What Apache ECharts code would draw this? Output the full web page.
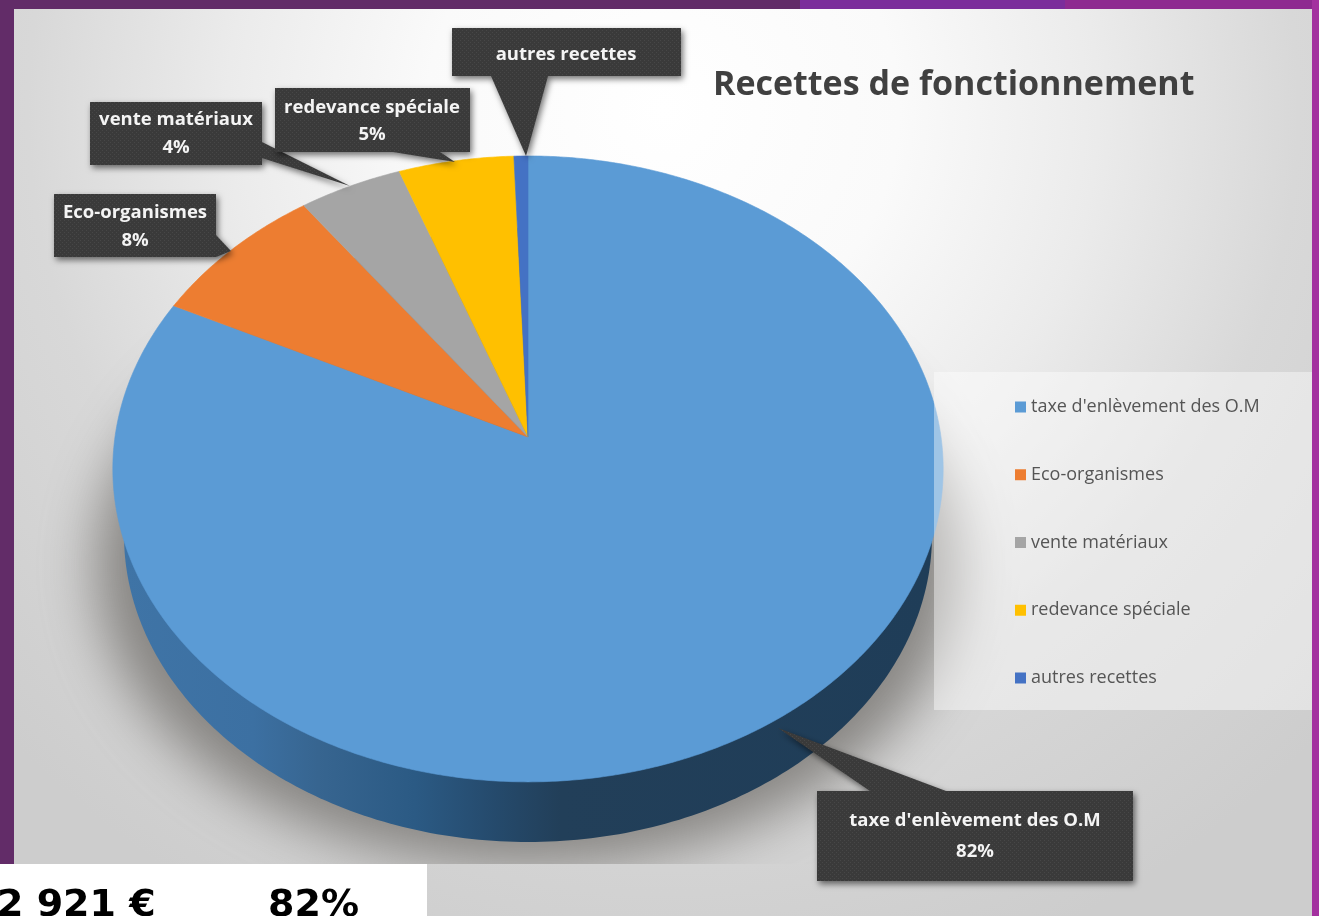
<!DOCTYPE html>
<html><head><meta charset="utf-8">
<style>html,body{margin:0;padding:0;background:#622c68}#c{width:1319px;height:916px}</style>
<script src="https://cdn.jsdelivr.net/npm/echarts@6/dist/echarts.min.js"></script>
</head><body><div id="c"></div>
<script>
const categories = ["taxe d'enlèvement des O.M", "Eco-organismes", "vente matériaux", "redevance spéciale", "autres recettes"];
const shares = [82.3, 7.7, 4.45, 4.95, 0.6];
const showPercent = [true, true, true, true, false];
const colors = ['#5b9bd5', '#ed7d31', '#a5a5a5', '#ffc000', '#4472c4'];

const PIE = {cx: 528, cy: 437, R: 413, a: 309.7, k: 0.102};
const BASE = {cx: 528, cy: 535, rx: 404, ry: 307};
const CALLOUTS = [
  {pts: [[817,791],[870,791],[778,728],[946,791],[1133,791],[1133,881],[817,881]], tx: 975, ty: [821, 852]},
  {pts: [[54,194],[216,194],[216,235],[231,251],[216,257],[54,257]], tx: 135, ty: [213, 241]},
  {pts: [[90,102],[262,102],[262,142],[350,186],[262,158],[262,165],[90,165]], tx: 176, ty: [120, 148]},
  {pts: [[275,88],[470,88],[470,152],[440,152],[455,162],[393,152],[275,152]], tx: 372, ty: [108, 135]},
  {pts: [[452,28],[681,28],[681,76],[548,76],[526,156],[491,76],[452,76]], tx: 566, ty: [55]}
];
const FONT = '"Open Sans", "Noto Sans", sans-serif';

function project(deg, P) {
  const t = deg * Math.PI / 180, u = Math.sin(t), v = Math.cos(t), d = 1 + P.k * v;
  return [P.cx + P.R * u / d, P.cy - P.a * v / d];
}
function dotted() {
  const cv = document.createElement('canvas'); cv.width = 4; cv.height = 4;
  const g = cv.getContext('2d');
  g.fillStyle = '#3a3a3a'; g.fillRect(0, 0, 4, 4);
  g.fillStyle = '#474747'; g.fillRect(0, 0, 1, 1); g.fillRect(2, 2, 1, 1);
  return cv;
}
const dots = dotted();
const total = shares.reduce((a, b) => a + b, 0);
function panelFill() {
  return new echarts.graphic.RadialGradient(663, 110, 907, [
    {offset: 0, color: '#ffffff'}, {offset: 0.26, color: '#fafafa'},
    {offset: 0.48, color: '#ebebeb'}, {offset: 0.7, color: '#d8d8d8'},
    {offset: 1, color: '#cdcdcd'}], true);
}

function sliceRenderer(idx) {
  return function (params, api) {
    const value = api.value(0);
    const start = shares.slice(0, idx).reduce((a, b) => a + b, 0) / total * 360;
    const end = start + value / total * 360;
    const pts = [[PIE.cx, PIE.cy]];
    for (let d = start; d < end; d += 0.5) pts.push(project(d, PIE));
    pts.push(project(end, PIE));
    const color = api.visual('color');
    const kids = [];
    if (idx === 0) {
      const wall = [];
      for (let d = 0; d < 360; d += 1) {
        const t = d * Math.PI / 180;
        wall.push([BASE.cx + BASE.rx * Math.cos(t), BASE.cy + BASE.ry * Math.sin(t)]);
      }
      kids.push({type: 'polygon', z2: 1, shape: {points: wall}, style: {
        fill: new echarts.graphic.LinearGradient(0, 0, 1, 0, [
          {offset: 0, color: '#3f74a6'}, {offset: 0.16, color: '#3c70a2'},
          {offset: 0.24, color: '#376590'}, {offset: 0.36, color: '#2b5a84'},
          {offset: 0.46, color: '#254a6c'}, {offset: 0.54, color: '#223f59'},
          {offset: 1, color: '#1f3d58'}])
      }});
    }
    kids.push({type: 'polygon', z2: 2, shape: {points: pts}, style: {fill: color, stroke: color, lineWidth: 0.6}});
    const c = CALLOUTS[idx];
    kids.push({type: 'polygon', z2: 10, shape: {points: c.pts}, style: {
      fill: {image: dots, repeat: 'repeat'},
      shadowBlur: 6, shadowColor: 'rgba(0,0,0,0.55)', shadowOffsetX: 2, shadowOffsetY: 3}});
    const textStyle = {fontFamily: FONT, fontWeight: 700, fontSize: 18.5, fill: '#f4f4f4', align: 'center', verticalAlign: 'middle'};
    kids.push({type: 'text', z2: 11, style: Object.assign({x: c.tx, y: c.ty[0], text: categories[idx]}, textStyle)});
    if (showPercent[idx]) {
      kids.push({type: 'text', z2: 11, style: Object.assign({x: c.tx, y: c.ty[1], text: Math.round(value / total * 100) + '%'}, textStyle)});
    }
    return {type: 'group', children: kids};
  };
}

const chart = echarts.init(document.getElementById('c'), null, {width: 1319, height: 916});
chart.setOption({
  animation: false,
  backgroundColor: '#622c68',
  title: {text: 'Recettes de fonctionnement', left: 708, top: 63,
    textStyle: {fontFamily: FONT, fontWeight: 700, fontSize: 34, color: '#404040'}},
  legend: {
    orient: 'vertical', left: 1010, top: 393, itemWidth: 11, itemHeight: 11, itemGap: 49.75, icon: 'rect',
    textStyle: {fontFamily: FONT, fontSize: 18, color: '#555555'},
    data: categories
  },
  graphic: [
    {type: 'rect', silent: true, shape: {x: 800, y: 0, width: 265, height: 9}, style: {fill: '#7b2d9b'}},
    {type: 'rect', silent: true, shape: {x: 1065, y: 0, width: 254, height: 9}, style: {fill: '#8e2a90'}},
    {type: 'rect', silent: true, shape: {x: 1312, y: 0, width: 7, height: 916}, style: {fill: '#a3319f'}},
    {type: 'rect', silent: true, shape: {x: 14, y: 9, width: 1298, height: 907}, style: {fill: panelFill()}},
    {type: 'ellipse', silent: true, shape: {cx: 528 - 3000, cy: 566, rx: 432, ry: 300}, style: {
      fill: '#777', shadowBlur: 55, shadowColor: 'rgba(120,118,114,0.85)', shadowOffsetX: 3000}},
    {type: 'rect', silent: true, shape: {x: 14, y: 864, width: 1298, height: 52}, style: {fill: panelFill()}},
    {type: 'rect', silent: true, z: 3, shape: {x: 934, y: 372, width: 378, height: 338}, style: {fill: 'rgba(255,255,255,0.42)'}},
    {type: 'rect', silent: true, z: 5, shape: {x: 0, y: 864, width: 427, height: 52}, style: {fill: '#ffffff'}},
    {type: 'text', silent: true, z: 6, style: {x: -3, y: 887, text: '2 921 €', fontFamily: '"DejaVu Sans"', fontWeight: 700, fontSize: 38, fill: '#000'}},
    {type: 'text', silent: true, z: 6, style: {x: 268, y: 887, text: '82%', fontFamily: '"DejaVu Sans"', fontWeight: 700, fontSize: 38, fill: '#000'}}
  ],
  series: categories.map((name, i) => ({
    type: 'custom', name, coordinateSystem: 'none', silent: true,
    itemStyle: {color: colors[i]},
    data: [[shares[i]]],
    renderItem: sliceRenderer(i)
  }))
});
</script></body></html>
